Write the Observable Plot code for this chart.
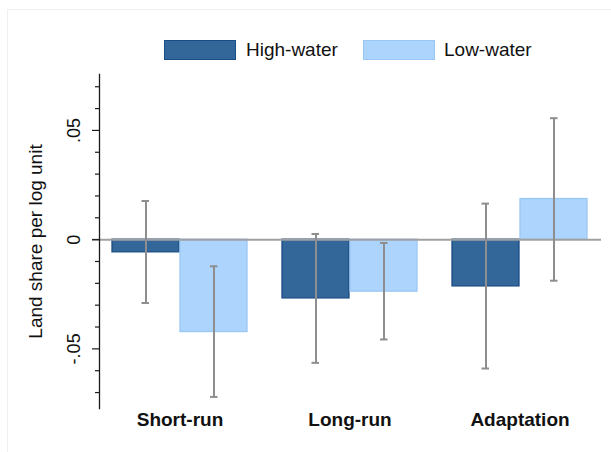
<!DOCTYPE html>
<html><head><meta charset="utf-8">
<script src="https://cdn.jsdelivr.net/npm/d3@7"></script>
<script src="https://cdn.jsdelivr.net/npm/@observablehq/plot@0.6"></script>
<style>
body{margin:0;background:#fff;font-family:"Liberation Sans",Arial,sans-serif;}
#wrap{position:relative;width:611px;height:452px;overflow:hidden;background:#fff;}
#border{position:absolute;left:7px;top:9px;width:700px;height:600px;border-top:1px solid #edf1f4;border-left:1px solid #edf1f4;}
#chart{position:absolute;left:0;top:0;}
.lg{position:absolute;top:40px;height:20px;width:72px;box-sizing:border-box;}
.lt{position:absolute;top:38px;font-size:19px;line-height:24px;color:#111;white-space:nowrap;}
</style></head>
<body>
<div id="wrap"><div id="border"></div><div id="chart"></div><div id="legend"></div></div>
<script>
const categories = ["Short-run", "Long-run", "Adaptation"];
const series = ["High-water", "Low-water"];
const highWater = [-0.0058, -0.0269, -0.0214];
const highLo = [-0.0290, -0.0564, -0.0590];
const highHi = [0.0177, 0.0026, 0.0165];
const lowWater = [-0.0423, -0.0238, 0.0186];
const lowLo = [-0.0720, -0.0457, -0.0188];
const lowHi = [-0.0122, -0.0015, 0.0556];
const majorTicks = [-0.05, 0, 0.05];
const minorTicks = [-0.07, -0.06, -0.04, -0.03, -0.02, -0.01, 0.01, 0.02, 0.03, 0.04, 0.06, 0.07];
const yLabel = "Land share per log unit";

const colors = {"High-water": {fill: "#336699", stroke: "#1b4c86"}, "Low-water": {fill: "#acd4fc", stroke: "#9ac8f4"}};
const high = categories.map((c, i) => ({category: c, value: highWater[i], lo: highLo[i], hi: highHi[i]}));
const low = categories.map((c, i) => ({category: c, value: lowWater[i], lo: lowLo[i], hi: lowHi[i]}));
const fmt = d => d === 0 ? "0" : (d < 0 ? "-" : "") + d3.format(".2f")(Math.abs(d)).replace(/^0/, "");
const errColor = "#8e8e8e";
const font = "'Liberation Sans', Arial, sans-serif";

const chart = Plot.plot({
  width: 611, height: 452,
  marginLeft: 99, marginRight: 10, marginTop: 74, marginBottom: 44,
  style: {fontFamily: font, background: "transparent", color: "#111"},
  x: {type: "band", domain: categories, paddingInner: 0.2033, paddingOuter: 0.071, axis: null},
  y: {domain: [-0.0773, 0.0756], axis: null},
  marks: [
    Plot.barY(high, {x: "category", y: "value", insetRight: 68, fill: colors["High-water"].fill, stroke: colors["High-water"].stroke, strokeWidth: 1.3}),
    Plot.barY(low, {x: "category", y: "value", insetLeft: 68, fill: colors["Low-water"].fill, stroke: colors["Low-water"].stroke, strokeWidth: 1.3}),
    Plot.ruleY([0], {stroke: "#a0a0a0", strokeWidth: 2, insetLeft: -7}),
    Plot.ruleX(high, {x: "category", y1: "lo", y2: "hi", dx: -34, stroke: errColor, strokeWidth: 2}),
    Plot.tickY(high, {x: "category", y: "hi", insetLeft: 29.5, insetRight: 98, stroke: errColor, strokeWidth: 2}),
    Plot.tickY(high, {x: "category", y: "lo", insetLeft: 29.5, insetRight: 98, stroke: errColor, strokeWidth: 2}),
    Plot.ruleX(low, {x: "category", y1: "lo", y2: "hi", dx: 34, stroke: errColor, strokeWidth: 2}),
    Plot.tickY(low, {x: "category", y: "hi", insetLeft: 98, insetRight: 29.5, stroke: errColor, strokeWidth: 2}),
    Plot.tickY(low, {x: "category", y: "lo", insetLeft: 98, insetRight: 29.5, stroke: errColor, strokeWidth: 2}),
    Plot.frame({anchor: "left", stroke: "#1a1a1a", strokeWidth: 1.3}),
    Plot.axisY({ticks: majorTicks, tickSize: 7, tickFormat: () => "", label: null, stroke: "#1a1a1a", strokeWidth: 1.2}),
    Plot.axisY({ticks: minorTicks, tickSize: 4, tickFormat: () => "", label: null, stroke: "#1a1a1a", strokeWidth: 1.2}),
    Plot.text(majorTicks, {y: d => d, text: fmt, frameAnchor: "left", dx: -25, rotate: -90, fontSize: 18, textAnchor: "middle", lineAnchor: "middle", fill: "#111"}),
    Plot.text([yLabel], {frameAnchor: "left", dx: -64, rotate: -90, fontSize: 19, textAnchor: "middle", lineAnchor: "middle", fill: "#111"}),
    Plot.text(categories, {x: d => d, text: d => d, frameAnchor: "bottom", dy: 11, fontSize: 19, fontWeight: "bold", lineAnchor: "middle", fill: "#111"})
  ]
});
document.getElementById("chart").appendChild(chart);

const legend = document.getElementById("legend");
const legendPos = [{box: 164, text: 246}, {box: 363, text: 444}];
series.forEach((s, i) => {
  const b = document.createElement("div");
  b.className = "lg";
  b.style.left = legendPos[i].box + "px";
  b.style.background = colors[s].fill;
  b.style.border = "1.5px solid " + colors[s].stroke;
  legend.appendChild(b);
  const t = document.createElement("div");
  t.className = "lt";
  t.style.left = legendPos[i].text + "px";
  t.textContent = s;
  legend.appendChild(t);
});
</script>
</body></html>
